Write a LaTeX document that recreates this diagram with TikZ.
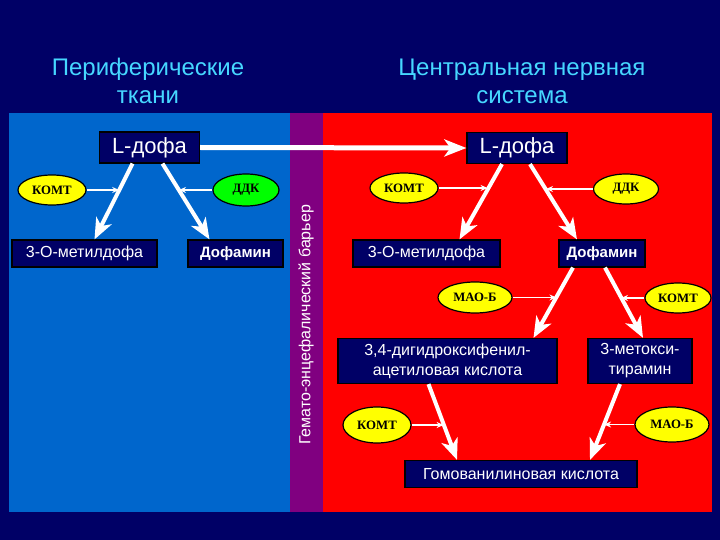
\documentclass[tikz,border=0pt]{standalone}
\usepackage{fontspec}
\setmainfont{Liberation Sans}
\newfontfamily\enzfont{Liberation Serif}
\usetikzlibrary{arrows.meta,shapes.geometric,calc}
\definecolor{bgnavy}{RGB}{0,0,102}
\definecolor{periblue}{RGB}{0,102,204}
\definecolor{barrierpurple}{RGB}{128,0,128}
\definecolor{cnsred}{RGB}{255,0,0}
\definecolor{titlecyan}{RGB}{70,215,255}
\definecolor{enzyellow}{RGB}{255,255,0}
\definecolor{enzgreen}{RGB}{0,255,0}

\begin{document}
\begin{tikzpicture}[
    x=1pt, y=-1pt,
    metab/.style={draw=black, line width=1.2pt, fill=bgnavy, text=white, inner sep=0pt, align=center, minimum height=27pt, font=\fontsize{16}{20}\selectfont},
    dopa/.style={metab, minimum width=100pt, minimum height=31pt, font=\fontsize{22}{24}\selectfont},
    enz/.style={draw=black, line width=1.2pt, ellipse, fill=enzyellow, inner sep=0pt, minimum width=68pt, minimum height=30pt, font=\enzfont\bfseries\fontsize{12.8}{14}\selectfont},
    title/.style={text=titlecyan, align=center, font=\fontsize{24}{28}\selectfont},
    conv/.style={draw=white, line width=4pt, -{Stealth[length=21pt, width=17pt, inset=6pt]}},
    act/.style={draw=white, line width=1.8pt, -{Stealth[length=7pt, width=6pt]}},
  ]
    % Background and regions
    \useasboundingbox (0,0) rectangle (720,540);
    \fill[bgnavy] (0,0) rectangle (720,540);
    \fill[periblue] (9,113) rectangle (290,512);
    \fill[barrierpurple] (290,113) rectangle (323,512);
    \fill[cnsred] (323,113) rectangle (712,512);

    % Titles
    \node[title] (tperi) at (148,81) {Периферические\\ткани};
    \node[title] (tcns) at (522,81) {Центральная нервная\\система};
    \node[rotate=90, text=white, font=\fontsize{16}{18}\selectfont] (barrier) at (306,325) {Гемато-энцефалический барьер};

    % Nodes (periphery)
    \node[dopa] (ldL) at (149.5,147.5) {L-дофа};
    \node[metab, minimum width=145pt] (metL) at (84.5,253.5) {3-О-метилдофа};
    \node[metab, minimum width=95pt, font=\fontsize{15}{18}\selectfont\bfseries] (dofL) at (235.5,253.5) {Дофамин};
    \node[enz] (komtL) at (52,190) {КОМТ};
    \node[enz, fill=enzgreen, minimum width=66pt, minimum height=32pt] (ddkL) at (246,190) {ДДК};

    % Nodes (CNS)
    \node[dopa] (ldR) at (517,148) {L-дофа};
    \node[enz] (komtR) at (404,188) {КОМТ};
    \node[enz, minimum width=65pt] (ddkR) at (626,189) {ДДК};
    \node[metab, minimum width=147pt] (metR) at (426.5,253.5) {3-О-метилдофа};
    \node[metab, minimum width=86pt, font=\fontsize{15}{18}\selectfont\bfseries] (dofR) at (602,253.5) {Дофамин};
    \node[enz, minimum width=74pt, minimum height=31pt] (maoR) at (475,297.5) {МАО-Б};
    \node[enz, minimum width=66pt] (komtR2) at (678,298) {КОМТ};
    \node[metab, minimum width=219pt, minimum height=45pt] (acid) at (447.5,361) {3,4-дигидроксифенил-\\ацетиловая кислота};
    \node[metab, minimum width=104pt, minimum height=45pt] (mtyr) at (640,361) {3-метокси-\\тирамин};
    \node[enz, minimum height=36pt] (komtB) at (377,425) {КОМТ};
    \node[enz, minimum width=74pt, minimum height=35pt] (maoB) at (672,424.5) {МАО-Б};
    \node[metab, minimum width=232pt] (hva) at (521,474) {Гомованилиновая кислота};

    % Transport across the barrier
    \draw[conv, line width=5pt, -{Stealth[length=22pt, width=17pt, inset=6pt]}] (ldL.east) -- (ldR.west);

    % Conversions
    \draw[conv] ([xshift=-17pt]ldL.south) -- coordinate[pos=.35] (pA) ([xshift=10pt]metL.north);
    \draw[conv] ([xshift=13pt]ldL.south) -- coordinate[pos=.35] (pB) ([xshift=-26pt]dofL.north);
    \draw[conv] ([xshift=-15pt]ldR.south) -- coordinate[pos=.34] (pC) ([xshift=33pt]metR.north);
    \draw[conv] ([xshift=13pt]ldR.south) -- coordinate[pos=.34] (pD) ([xshift=-25pt]dofR.north);
    \draw[conv] ([xshift=-29pt]dofR.south) -- coordinate[pos=.42] (pE) ([xshift=86pt]acid.north);
    \draw[conv] ([xshift=3pt]dofR.south) -- coordinate[pos=.42] (pF) ([xshift=3pt]mtyr.north);
    \draw[conv] ([xshift=-19pt]acid.south) -- coordinate[pos=.53] (pG) ([xshift=-64pt]hva.north);
    \draw[conv] ([xshift=-20pt]mtyr.south) -- coordinate[pos=.53] (pH) ([xshift=69pt]hva.north);

    % Enzymes
    \draw[act] (komtL.east) -- (komtL.east -| pA);
    \draw[act] (ddkL.west) -- (ddkL.west -| pB);
    \draw[act] (komtR.east) -- (komtR.east -| pC);
    \draw[act] (ddkR.west) -- (ddkR.west -| pD);
    \draw[act] (maoR.east) -- (maoR.east -| pE);
    \draw[act] (komtR2.west) -- (komtR2.west -| pF);
    \draw[act] (komtB.east) -- (komtB.east -| pG);
    \draw[act] (maoB.west) -- (maoB.west -| pH);
  \end{tikzpicture}
\end{document}
